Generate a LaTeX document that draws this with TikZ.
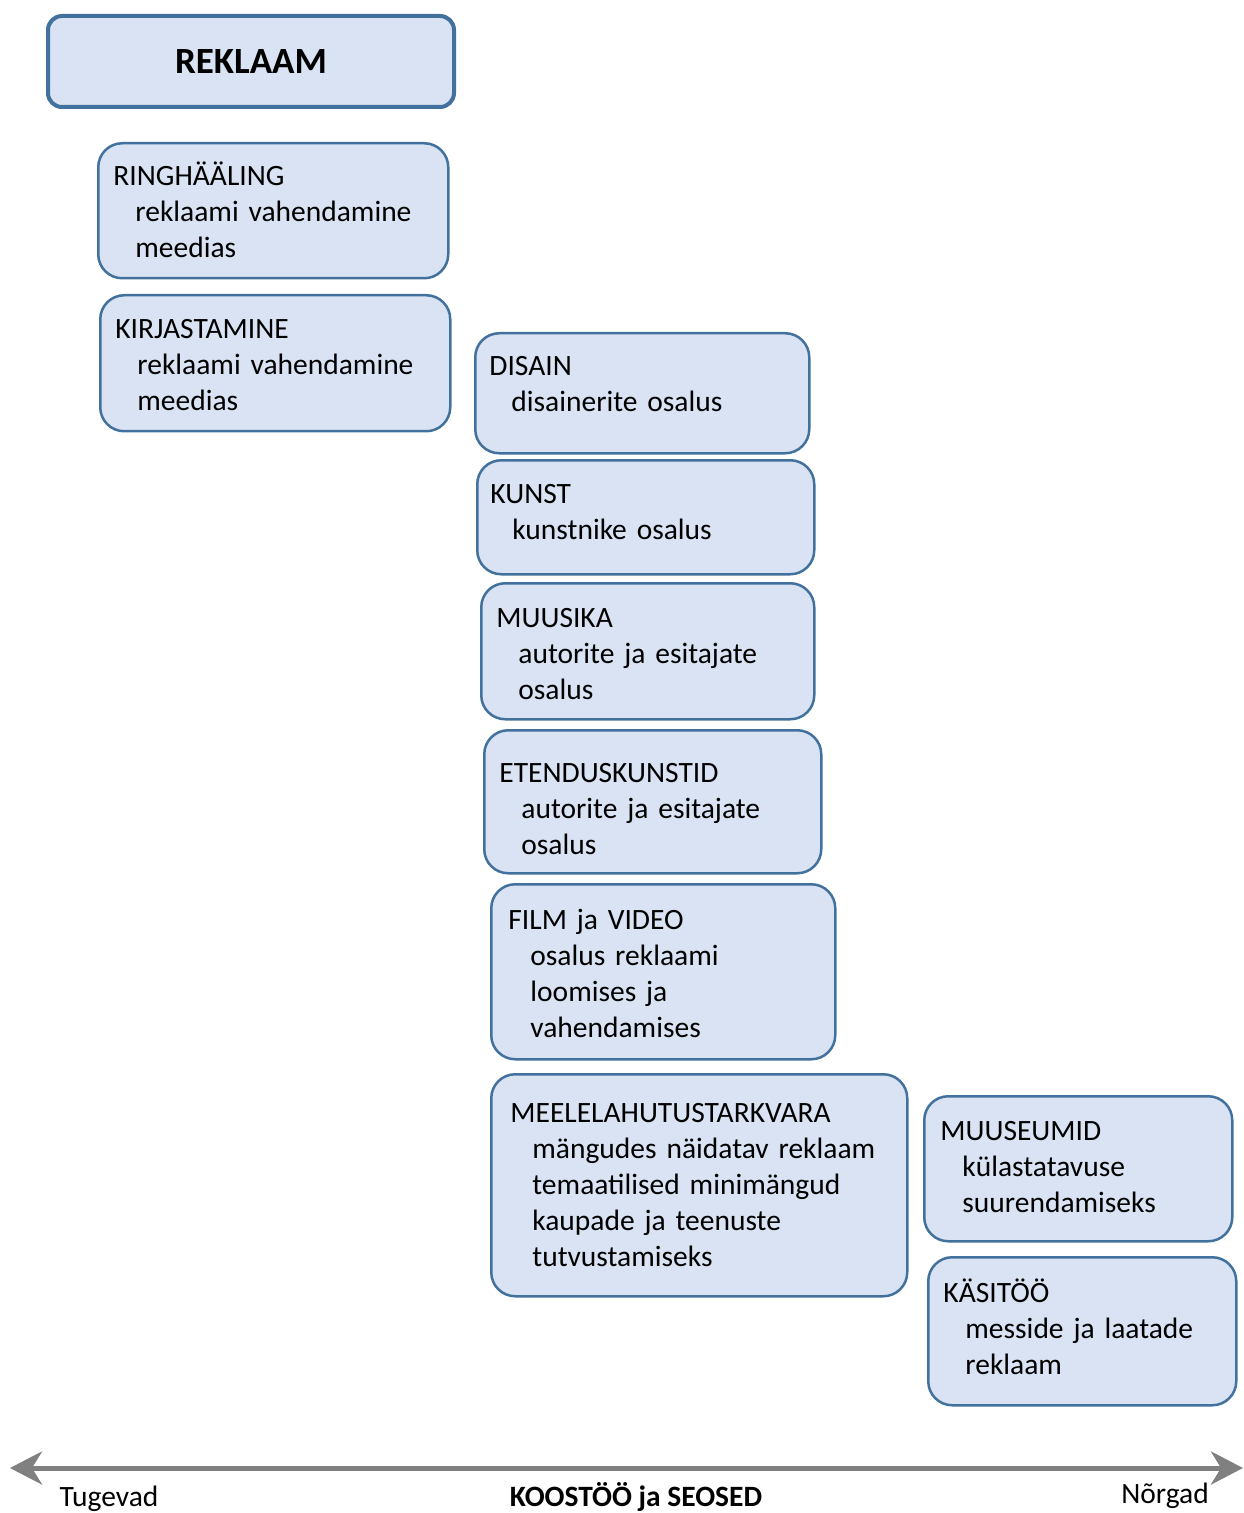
\documentclass[tikz,border=0pt]{standalone}
\usepackage{fontspec}
\setmainfont{Carlito}
\usepackage{xcolor}
\usepackage{tikz}
\usetikzlibrary{arrows.meta,positioning}

\definecolor{boxfill}{HTML}{DAE3F3}
\definecolor{boxline}{HTML}{41719C}
\definecolor{axisgray}{HTML}{808080}
\newcommand{\ind}{\hspace*{11pt}}

\begin{document}
\begin{tikzpicture}[
  x=0.5pt, y=-0.5pt,
  every node/.style={font=\fontsize{14.75pt}{18pt}\selectfont},
  title/.style={draw=boxline, line width=2pt, rounded corners=7pt, fill=boxfill, minimum width=203pt, minimum height=45.5pt, anchor=north west, font=\fontsize{18.5pt}{22pt}\selectfont\bfseries},
  blk/.style={draw=boxline, line width=1.25pt, rounded corners=12pt, fill=boxfill, inner sep=0pt, anchor=north west},
  txt/.style={align=left, text width=215pt, inner sep=0pt, anchor=base west},
  axis/.style={{Stealth[length=16pt, width=16.5pt, inset=5pt]}-{Stealth[length=16pt, width=16.5pt, inset=5pt]}, line width=2.5pt, color=axisgray}
]
\useasboundingbox (0,0) rectangle (1243,1513);

\node[title] (rekl) at (46,14) {REKLAAM};

% kastid
\node[blk, minimum width=175pt, minimum height=67.5pt] (ring) at (97,142) {};
\node[blk, minimum width=175pt, minimum height=68pt] (kirj) at (99,294) {};
\node[blk, minimum width=167pt, minimum height=60pt] (dis) at (474,332) {};
\node[blk, minimum width=168.5pt, minimum height=57pt] (kunst) at (476,459) {};
\node[blk, minimum width=166.5pt, minimum height=68pt] (muus) at (480,582) {};
\node[blk, minimum width=168.5pt, minimum height=71.5pt] (etend) at (483,729) {};
\node[blk, minimum width=172pt, minimum height=87.5pt] (film) at (490,883) {};
\node[blk, minimum width=208pt, minimum height=111pt] (meel) at (490,1073) {};
\node[blk, minimum width=154pt, minimum height=72.5pt] (muuseum) at (923,1095) {};
\node[blk, minimum width=154pt, minimum height=74pt] (kasi) at (927,1256) {};

% tekstid
\node[txt] (ring-t) at (113,186) {RINGHÄÄLING\\\ind reklaami vahendamine\\\ind meedias};
\node[txt] (kirj-t) at (115,339) {KIRJASTAMINE\\\ind reklaami vahendamine\\\ind meedias};
\node[txt] (dis-t) at (489,376) {DISAIN\\\ind disainerite osalus};
\node[txt] (kunst-t) at (490,503) {KUNST\\\ind kunstnike osalus};
\node[txt] (muus-t) at (496,627) {MUUSIKA\\\ind autorite ja esitajate\\\ind osalus};
\node[txt] (etend-t) at (499,782) {ETENDUSKUNSTID\\\ind autorite ja esitajate\\\ind osalus};
\node[txt] (film-t) at (508,929) {FILM ja VIDEO\\\ind osalus reklaami\\\ind loomises ja\\\ind vahendamises};
\node[txt] (meel-t) at (510,1122) {MEELELAHUTUSTARKVARA\\\ind mängudes näidatav reklaam\\\ind temaatilised minimängud\\\ind kaupade ja teenuste\\\ind tutvustamiseks};
\node[txt] (muuseum-t) at (940,1140) {MUUSEUMID\\\ind külastatavuse\\\ind suurendamiseks};
\node[txt] (kasi-t) at (943,1302) {KÄSITÖÖ\\\ind messide ja laatade\\\ind reklaam};

% koostoo telg
\coordinate (lft) at (10,1468);
\coordinate (rgt) at (1243,1468);
\draw[axis] (lft) -- (rgt);

\node (tug) at (109,1499) {Tugevad};
\node[font=\fontsize{14.75pt}{18pt}\selectfont\bfseries] (koos) at (636,1497) {KOOSTÖÖ ja SEOSED};
\node (norg) at (1165,1496) {Nõrgad};

\end{tikzpicture}
\end{document}
